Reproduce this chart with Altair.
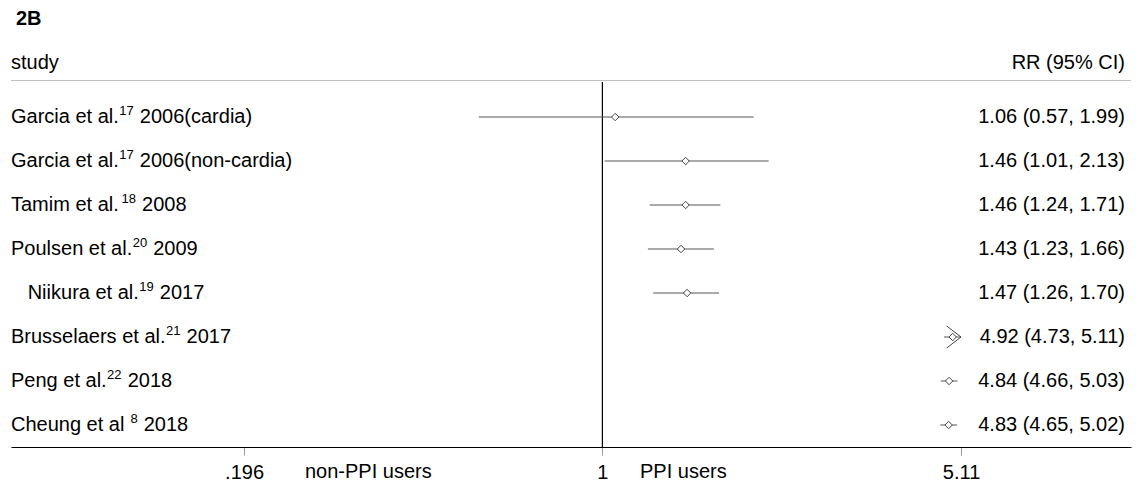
import altair as alt
import pandas as pd

# ---------------- data ----------------
panel_label = "2B"
header_left = "study"
header_right = "RR (95% CI)"
study_names = ["Garcia et al.", "Garcia et al.", "Tamim et al.", "Poulsen et al.",
               "   Niikura et al.", "Brusselaers et al.", "Peng et al.", "Cheung et al "]
ref_numbers = ["17", "17", "18", "20", "19", "21", "22", "8"]
study_years = [" 2006(cardia)", " 2006(non-cardia)", " 2008", " 2009",
               " 2017", " 2017", " 2018", " 2018"]
rr = [1.06, 1.46, 1.46, 1.43, 1.47, 4.92, 4.84, 4.83]
ci_low = [0.57, 1.01, 1.24, 1.23, 1.26, 4.73, 4.66, 4.65]
ci_high = [1.99, 2.13, 1.71, 1.66, 1.70, 5.11, 5.03, 5.02]
tick_values = [0.196, 1, 5.11]
tick_labels = [".196", "1", "5.11"]
side_labels = ["non-PPI users", "PPI users"]

# ---------------- styling / layout ----------------
FONT = "Liberation Sans, Arial, Helvetica, sans-serif"
FS = 20
SUP_FS = 13
W = 1120
H = 439
ROW0 = 109.0
STEP = 44.0
X_DOMAIN = [0.0679, 11.07]

ARIAL = {' ': 278, '(': 333, ')': 333, ',': 278, '-': 333, '.': 278,
         'A': 667, 'B': 667, 'C': 722, 'G': 778, 'N': 722, 'P': 667, 'T': 611,
         'a': 556, 'b': 556, 'c': 500, 'd': 556, 'e': 556, 'g': 556, 'h': 556,
         'i': 222, 'k': 500, 'l': 222, 'm': 833, 'n': 556, 'o': 556, 'p': 556,
         'r': 333, 's': 500, 't': 278, 'u': 556, 'y': 500}


def text_width(s, size):
    return sum(ARIAL.get(ch, 556) for ch in s) * size / 1000.0


n = len(rr)
rows = list(range(n))
df = pd.DataFrame({
    "row": rows, "rr": rr, "lo": ci_low, "hi": ci_high,
    "ci_text": [f"{a:.2f} ({b:.2f}, {c:.2f})" for a, b, c in zip(rr, ci_low, ci_high)],
})

# label segments (main text + superscript reference)
main_segs, sup_segs = [], []
for i in rows:
    x = 0.0
    name = study_names[i]
    lead = len(name) - len(name.lstrip(' '))
    x += text_width(' ' * lead, FS)
    main_segs.append({"row": i, "t": name.strip(), "xo": x})
    x += text_width(name.lstrip(' '), FS) + 0.5
    sup_segs.append({"row": i, "t": ref_numbers[i], "xo": x})
    x += text_width(ref_numbers[i], SUP_FS) + 0.5
    yr = study_years[i]
    lead = len(yr) - len(yr.lstrip(' '))
    x += text_width(' ' * lead, FS)
    main_segs.append({"row": i, "t": yr.strip(), "xo": x})
main_df = pd.DataFrame(main_segs)
sup_df = pd.DataFrame(sup_segs)

yscale = alt.Scale(domain=[-ROW0 / STEP, (H - ROW0) / STEP], reverse=True, nice=False, zero=False)
xscale = alt.Scale(type="log", domain=X_DOMAIN, nice=False, zero=False)

expr = " : ".join(
    [f"abs(datum.value - {v}) < 1e-6 ? '{l}'" for v, l in zip(tick_values[:-1], tick_labels[:-1])]
) + f" : '{tick_labels[-1]}'"
xaxis = alt.Axis(values=tick_values, labelExpr=expr, title=None, grid=False,
                 domainColor="black", domainWidth=1.2, tickColor="#999999", tickWidth=1,
                 tickSize=8, labelPadding=7, labelFont=FONT, labelFontSize=FS,
                 labelColor="black", labelFlush=False, labelOverlap=False)


def X(field):
    return alt.X(field, type="quantitative", scale=xscale, axis=xaxis)


Y = alt.Y("row:Q", scale=yscale, axis=None)

header_line = alt.Chart(pd.DataFrame({"a": [0]})).mark_rule(color="#c0c0c0", strokeWidth=1).encode(
    x=alt.value(0), x2=alt.value(W), y=alt.value(72.5))

null_line = alt.Chart(pd.DataFrame({"v": [1]})).mark_rule(color="black", strokeWidth=1.2).encode(
    x=X("v"), y=alt.value(74), y2=alt.value(H))

ci = alt.Chart(df).mark_rule(color="#555555", strokeWidth=1).encode(
    x=X("lo"), x2="hi", y=Y)

pts = alt.Chart(df).mark_point(shape="diamond", size=55, filled=True, fill="white",
                               stroke="#444444", strokeWidth=1, opacity=1).encode(
    x=X("rr"), y=Y)

arrow_df = df[df["hi"] >= max(tick_values)]
arrows = alt.Chart(arrow_df).mark_point(shape="M-1.3,-1L0,0L-1.3,1", size=484, filled=False,
                                        stroke="#444444", strokeWidth=1, opacity=1).encode(
    x=X("hi"), y=Y)

left_main = alt.Chart(main_df).mark_text(align="left", baseline="middle", font=FONT,
                                         fontSize=FS, color="black").encode(
    x=alt.X("xo:Q", scale=None), y=Y, text="t:N")

left_sup = alt.Chart(sup_df).mark_text(align="left", baseline="middle", font=FONT,
                                       fontSize=SUP_FS, color="black", dy=-6).encode(
    x=alt.X("xo:Q", scale=None), y=Y, text="t:N")

right_text = alt.Chart(df).mark_text(align="right", baseline="middle", font=FONT,
                                     fontSize=FS, color="black").encode(
    x=alt.value(1114), y=Y, text="ci_text:N")


def label(txt, x, y, align="left", bold=False):
    return alt.Chart(pd.DataFrame({"t": [txt]})).mark_text(
        align=align, baseline="middle", font=FONT, fontSize=FS, color="black",
        fontWeight="bold" if bold else "normal").encode(
        x=alt.value(x), y=alt.value(y), text="t:N")


layers = [
    header_line, null_line, ci, arrows, pts, left_main, left_sup, right_text,
    label(panel_label, 5, 11, bold=True),
    label(header_left, 0, 55),
    label(header_right, 1114, 55, align="right"),
    label(side_labels[0], 294, 464),
    label(side_labels[1], 629, 464),
]

chart = alt.layer(*layers).properties(
    width=W, height=H, padding={"left": 2, "top": 0, "right": 0, "bottom": 0}
).configure_view(stroke=None)

chart.save("out.html", embed_options={"renderer": "svg", "actions": False})
